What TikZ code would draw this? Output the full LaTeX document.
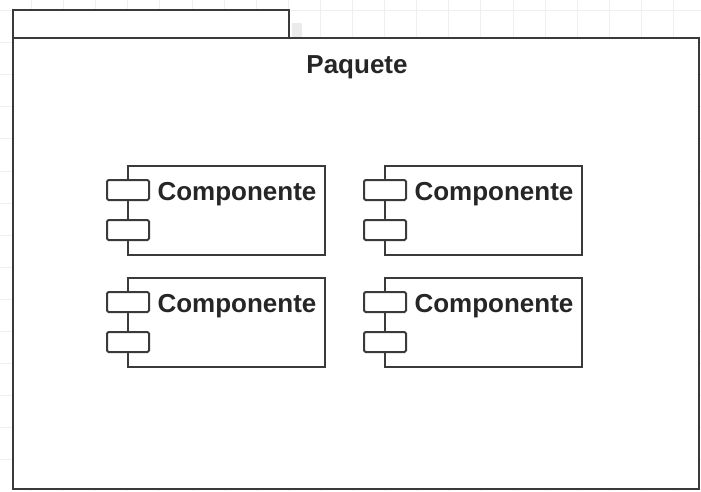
\documentclass[tikz,border=0pt]{standalone}
\usepackage{fontspec}
\setmainfont{Liberation Sans}
\definecolor{lc}{HTML}{3A3A3A}
\definecolor{gridc}{HTML}{EFEFEF}
\begin{document}
\begin{tikzpicture}[x=1pt,y=-1pt,
  gridline/.style={draw=gridc, line width=1pt},
  box/.style={draw=lc, fill=white, line width=2pt, rectangle, inner sep=0pt, outer sep=0pt, anchor=north west},
  port/.style={draw=lc, fill=white, line width=2pt, rectangle, rounded corners=1.5pt, inner sep=0pt, outer sep=0pt, minimum width=42pt, minimum height=20pt, anchor=north west},
  lbl/.style={font=\bfseries\fontsize{26}{30}\selectfont, text=black!85, inner sep=0pt, anchor=base}
]
\useasboundingbox (0,0) rectangle (701,491);
\fill[white] (0,0) rectangle (701,491);
\foreach \i in {0,...,21} \draw[gridline] ({31.5+32.1*\i},0) -- ({31.5+32.1*\i},491);
\foreach \j in {0,...,15} \draw[gridline] (0,{10.5+32.1*\j}) -- (701,{10.5+32.1*\j});
\fill[black!8] (292,23) rectangle (302,37);
% package
\node[box, minimum width=276pt, minimum height=28pt] (tab) at (13,10) {};
\node[box, minimum width=686pt, minimum height=451pt] (pkg) at (13,38) {};
\node[lbl] (pkgname) at (357,73) {Paquete};
% components
\foreach \n/\cx/\cy in {c1/128/166, c2/385/166, c3/128/278, c4/385/278} {
  \node[box, minimum width=197pt, minimum height=89pt] (\n) at (\cx,\cy) {};
  \node[port] (\n p1) at ({\cx-21},{\cy+14}) {};
  \node[port] (\n p2) at ({\cx-21},{\cy+54}) {};
  \node[lbl] (\n t) at ({\cx+109},{\cy+34}) {Componente};
}
\end{tikzpicture}
\end{document}
